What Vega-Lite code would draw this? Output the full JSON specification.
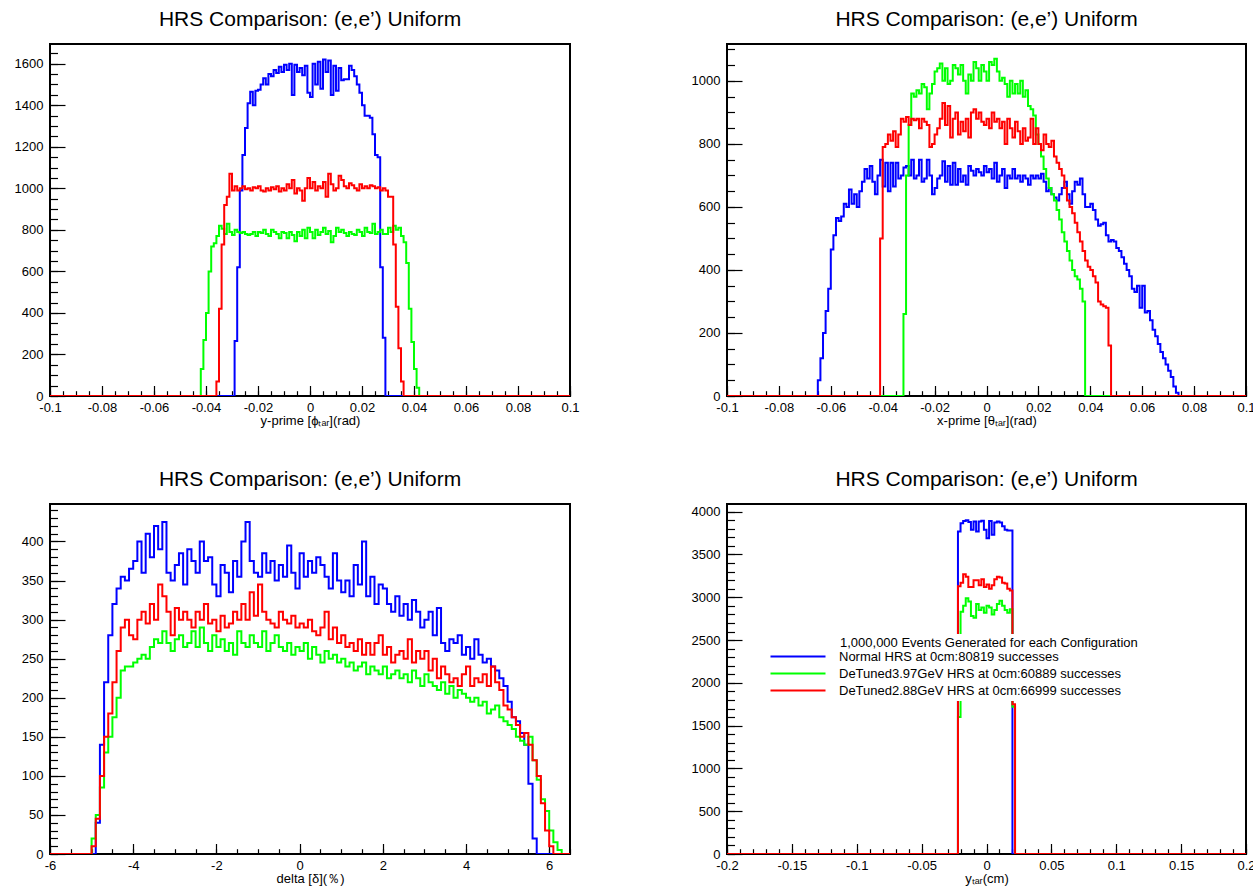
{
"$schema": "https://vega.github.io/schema/vega-lite/v6.json",
"padding": {"left": 13, "top": 8, "right": 0, "bottom": 0},
"config": {
 "view": {"stroke": "black", "strokeWidth": 2},
 "axis": {"domain": false, "grid": false, "tickColor": "black", "tickWidth": 1.2, "labelColor": "black", "labelFont": "Liberation Sans", "labelFontSize": 13, "labelOverlap": false, "labelFlush": false, "titleFont": "Liberation Sans", "titleFontSize": 13, "titleFontWeight": "normal", "titleColor": "black"},
 "title": {"font": "Liberation Sans", "fontSize": 21, "fontWeight": "normal", "color": "black", "anchor": "middle", "offset": 14}
},
"columns": 2,
"spacing": {"row": 108, "column": 157},
"bounds": "flush",
"resolve": {"scale": {"x": "independent", "y": "independent", "color": "independent"}},
"datasets": {
"p1": [
{"x":-0.1,"b":0,"g":0,"r":0},{"x":-0.0425,"b":0,"g":0,"r":0},{"x":-0.0415,"b":0,"g":130,"r":0},{"x":-0.0405,"b":0,"g":270,"r":0},{"x":-0.0395,"b":0,"g":400,"r":0},{"x":-0.0385,"b":0,"g":600,"r":0},{"x":-0.0375,"b":0,"g":720,"r":0},{"x":-0.0365,"b":0,"g":735,"r":0},{"x":-0.0355,"b":0,"g":770,"r":70},{"x":-0.0345,"b":0,"g":820,"r":420},{"x":-0.0335,"b":0,"g":805,"r":730},{"x":-0.0325,"b":0,"g":780,"r":920},{"x":-0.0315,"b":0,"g":830,"r":960},{"x":-0.0305,"b":0,"g":790,"r":1070},{"x":-0.0295,"b":0,"g":775,"r":990},{"x":-0.0285,"b":265,"g":800,"r":1010},{"x":-0.0275,"b":620,"g":790,"r":990},{"x":-0.0265,"b":990,"g":785,"r":1000},{"x":-0.0255,"b":1160,"g":790,"r":1010},{"x":-0.0245,"b":1290,"g":780,"r":995},{"x":-0.0235,"b":1410,"g":775,"r":1000},{"x":-0.0225,"b":1465,"g":780,"r":990},{"x":-0.0215,"b":1400,"g":790,"r":1005},{"x":-0.0205,"b":1470,"g":770,"r":1000},{"x":-0.0195,"b":1475,"g":790,"r":1010},{"x":-0.0185,"b":1500,"g":785,"r":990},{"x":-0.0175,"b":1530,"g":800,"r":985},{"x":-0.0165,"b":1500,"g":780,"r":1000},{"x":-0.0155,"b":1550,"g":770,"r":990},{"x":-0.0145,"b":1540,"g":800,"r":1005},{"x":-0.0135,"b":1570,"g":790,"r":995},{"x":-0.0125,"b":1555,"g":780,"r":1010},{"x":-0.0115,"b":1585,"g":760,"r":985},{"x":-0.0105,"b":1560,"g":790,"r":1000},{"x":-0.0095,"b":1595,"g":785,"r":990},{"x":-0.0085,"b":1570,"g":760,"r":1020},{"x":-0.0075,"b":1600,"g":790,"r":1000},{"x":-0.0065,"b":1450,"g":775,"r":1040},{"x":-0.0055,"b":1595,"g":745,"r":975},{"x":-0.0045,"b":1560,"g":790,"r":1000},{"x":-0.0035,"b":1580,"g":770,"r":990},{"x":-0.0025,"b":1545,"g":800,"r":940},{"x":-0.0015,"b":1590,"g":760,"r":1000},{"x":-0.0005,"b":1460,"g":810,"r":1050},{"x":0.0005,"b":1440,"g":790,"r":1000},{"x":0.0015,"b":1600,"g":760,"r":1030},{"x":0.0025,"b":1500,"g":800,"r":990},{"x":0.0035,"b":1610,"g":775,"r":1010},{"x":0.0045,"b":1480,"g":790,"r":1000},{"x":0.0055,"b":1620,"g":810,"r":1030},{"x":0.0065,"b":1560,"g":780,"r":960},{"x":0.0075,"b":1615,"g":795,"r":1070},{"x":0.0085,"b":1450,"g":740,"r":1020},{"x":0.0095,"b":1590,"g":770,"r":990},{"x":0.0105,"b":1470,"g":810,"r":1000},{"x":0.0115,"b":1580,"g":790,"r":1060},{"x":0.0125,"b":1520,"g":800,"r":1040},{"x":0.0135,"b":1525,"g":785,"r":1010},{"x":0.0145,"b":1525,"g":770,"r":1000},{"x":0.0155,"b":1590,"g":790,"r":1025},{"x":0.0165,"b":1570,"g":780,"r":1015},{"x":0.0175,"b":1540,"g":775,"r":1000},{"x":0.0185,"b":1500,"g":800,"r":990},{"x":0.0195,"b":1460,"g":790,"r":1020},{"x":0.0205,"b":1400,"g":770,"r":1000},{"x":0.0215,"b":1350,"g":810,"r":1010},{"x":0.0225,"b":1350,"g":790,"r":1000},{"x":0.0235,"b":1340,"g":785,"r":1015},{"x":0.0245,"b":1260,"g":830,"r":1010},{"x":0.0255,"b":1160,"g":780,"r":1000},{"x":0.0265,"b":1150,"g":790,"r":1005},{"x":0.0275,"b":620,"g":800,"r":990},{"x":0.0285,"b":280,"g":780,"r":1000},{"x":0.0295,"b":0,"g":780,"r":990},{"x":0.0305,"b":0,"g":810,"r":960},{"x":0.0315,"b":0,"g":790,"r":960},{"x":0.0325,"b":0,"g":820,"r":730},{"x":0.0335,"b":0,"g":800,"r":430},{"x":0.0345,"b":0,"g":810,"r":230},{"x":0.0355,"b":0,"g":770,"r":70},{"x":0.0365,"b":0,"g":740,"r":0},{"x":0.0375,"b":0,"g":640,"r":0},{"x":0.0385,"b":0,"g":420,"r":0},{"x":0.0395,"b":0,"g":260,"r":0},{"x":0.0405,"b":0,"g":130,"r":0},{"x":0.0415,"b":0,"g":40,"r":0},{"x":0.0425,"b":0,"g":0,"r":0},{"x":0.1,"b":0,"g":0,"r":0}
],
"p2": [
{"x":-0.1,"b":0,"g":0,"r":0},{"x":-0.0665,"b":0,"g":0,"r":0},{"x":-0.0655,"b":0,"g":0,"r":0},{"x":-0.0645,"b":50,"g":0,"r":0},{"x":-0.0635,"b":120,"g":0,"r":0},{"x":-0.0625,"b":200,"g":0,"r":0},{"x":-0.0615,"b":270,"g":0,"r":0},{"x":-0.0605,"b":340,"g":0,"r":0},{"x":-0.0595,"b":465,"g":0,"r":0},{"x":-0.0585,"b":510,"g":0,"r":0},{"x":-0.0575,"b":565,"g":0,"r":0},{"x":-0.0565,"b":555,"g":0,"r":0},{"x":-0.0555,"b":570,"g":0,"r":0},{"x":-0.0545,"b":610,"g":0,"r":0},{"x":-0.0535,"b":600,"g":0,"r":0},{"x":-0.0525,"b":655,"g":0,"r":0},{"x":-0.0515,"b":610,"g":0,"r":0},{"x":-0.0505,"b":640,"g":0,"r":0},{"x":-0.0495,"b":600,"g":0,"r":0},{"x":-0.0485,"b":650,"g":0,"r":0},{"x":-0.0475,"b":680,"g":0,"r":0},{"x":-0.0465,"b":720,"g":0,"r":0},{"x":-0.0455,"b":690,"g":0,"r":0},{"x":-0.0445,"b":730,"g":0,"r":0},{"x":-0.0435,"b":680,"g":0,"r":0},{"x":-0.0425,"b":640,"g":0,"r":0},{"x":-0.0415,"b":700,"g":0,"r":0},{"x":-0.0405,"b":750,"g":0,"r":500},{"x":-0.0395,"b":665,"g":0,"r":790},{"x":-0.0385,"b":740,"g":0,"r":800},{"x":-0.0375,"b":650,"g":0,"r":830},{"x":-0.0365,"b":740,"g":0,"r":810},{"x":-0.0355,"b":665,"g":0,"r":840},{"x":-0.0345,"b":740,"g":0,"r":790},{"x":-0.0335,"b":690,"g":0,"r":830},{"x":-0.0325,"b":700,"g":0,"r":880},{"x":-0.0315,"b":725,"g":260,"r":870},{"x":-0.0305,"b":730,"g":700,"r":885},{"x":-0.0295,"b":700,"g":860,"r":860},{"x":-0.0285,"b":750,"g":960,"r":880},{"x":-0.0275,"b":690,"g":950,"r":875},{"x":-0.0265,"b":700,"g":970,"r":880},{"x":-0.0255,"b":750,"g":960,"r":850},{"x":-0.0245,"b":680,"g":990,"r":880},{"x":-0.0235,"b":690,"g":980,"r":870},{"x":-0.0225,"b":750,"g":910,"r":860},{"x":-0.0215,"b":700,"g":960,"r":790},{"x":-0.0205,"b":640,"g":990,"r":800},{"x":-0.0195,"b":660,"g":1030,"r":830},{"x":-0.0185,"b":690,"g":1040,"r":850},{"x":-0.0175,"b":700,"g":1055,"r":880},{"x":-0.0165,"b":745,"g":1000,"r":930},{"x":-0.0155,"b":680,"g":1040,"r":860},{"x":-0.0145,"b":730,"g":990,"r":920},{"x":-0.0135,"b":670,"g":1000,"r":820},{"x":-0.0125,"b":740,"g":1050,"r":880},{"x":-0.0115,"b":670,"g":1040,"r":900},{"x":-0.0105,"b":720,"g":1020,"r":830},{"x":-0.0095,"b":680,"g":1050,"r":870},{"x":-0.0085,"b":700,"g":1000,"r":840},{"x":-0.0075,"b":670,"g":960,"r":880},{"x":-0.0065,"b":730,"g":1020,"r":820},{"x":-0.0055,"b":715,"g":1000,"r":900},{"x":-0.0045,"b":700,"g":1060,"r":910},{"x":-0.0035,"b":720,"g":1040,"r":880},{"x":-0.0025,"b":710,"g":1000,"r":900},{"x":-0.0015,"b":700,"g":1050,"r":870},{"x":-0.0005,"b":730,"g":1030,"r":860},{"x":0.0005,"b":710,"g":1000,"r":880},{"x":0.0015,"b":720,"g":1060,"r":850},{"x":0.0025,"b":690,"g":1050,"r":900},{"x":0.0035,"b":740,"g":1070,"r":870},{"x":0.0045,"b":680,"g":1030,"r":880},{"x":0.0055,"b":700,"g":1000,"r":850},{"x":0.0065,"b":720,"g":1010,"r":870},{"x":0.0075,"b":660,"g":990,"r":800},{"x":0.0085,"b":700,"g":950,"r":880},{"x":0.0095,"b":690,"g":1000,"r":850},{"x":0.0105,"b":720,"g":960,"r":820},{"x":0.0115,"b":690,"g":990,"r":870},{"x":0.0125,"b":700,"g":960,"r":840},{"x":0.0135,"b":680,"g":1000,"r":800},{"x":0.0145,"b":700,"g":950,"r":850},{"x":0.0155,"b":690,"g":970,"r":810},{"x":0.0165,"b":670,"g":920,"r":820},{"x":0.0175,"b":700,"g":910,"r":880},{"x":0.0185,"b":690,"g":890,"r":800},{"x":0.0195,"b":700,"g":830,"r":850},{"x":0.0205,"b":690,"g":800,"r":800},{"x":0.0215,"b":705,"g":760,"r":780},{"x":0.0225,"b":680,"g":720,"r":830},{"x":0.0235,"b":650,"g":690,"r":800},{"x":0.0245,"b":660,"g":660,"r":790},{"x":0.0255,"b":640,"g":640,"r":810},{"x":0.0265,"b":630,"g":620,"r":760},{"x":0.0275,"b":620,"g":590,"r":740},{"x":0.0285,"b":640,"g":560,"r":720},{"x":0.0295,"b":660,"g":520,"r":700},{"x":0.0305,"b":680,"g":490,"r":660},{"x":0.0315,"b":640,"g":460,"r":620},{"x":0.0325,"b":610,"g":430,"r":600},{"x":0.0335,"b":650,"g":400,"r":580},{"x":0.0345,"b":680,"g":380,"r":550},{"x":0.0355,"b":670,"g":370,"r":520},{"x":0.0365,"b":690,"g":340,"r":490},{"x":0.0375,"b":640,"g":300,"r":460},{"x":0.0385,"b":600,"g":0,"r":430},{"x":0.0395,"b":600,"g":0,"r":410},{"x":0.0405,"b":610,"g":0,"r":400},{"x":0.0415,"b":590,"g":0,"r":380},{"x":0.0425,"b":560,"g":0,"r":360},{"x":0.0435,"b":540,"g":0,"r":300},{"x":0.0445,"b":545,"g":0,"r":290},{"x":0.0455,"b":550,"g":0,"r":285},{"x":0.0465,"b":510,"g":0,"r":280},{"x":0.0475,"b":490,"g":0,"r":160},{"x":0.0485,"b":495,"g":0,"r":0},{"x":0.0495,"b":490,"g":0,"r":0},{"x":0.0505,"b":470,"g":0,"r":0},{"x":0.0515,"b":460,"g":0,"r":0},{"x":0.0525,"b":440,"g":0,"r":0},{"x":0.0535,"b":420,"g":0,"r":0},{"x":0.0545,"b":400,"g":0,"r":0},{"x":0.0555,"b":380,"g":0,"r":0},{"x":0.0565,"b":340,"g":0,"r":0},{"x":0.0575,"b":330,"g":0,"r":0},{"x":0.0585,"b":350,"g":0,"r":0},{"x":0.0595,"b":280,"g":0,"r":0},{"x":0.0605,"b":350,"g":0,"r":0},{"x":0.0615,"b":265,"g":0,"r":0},{"x":0.0625,"b":270,"g":0,"r":0},{"x":0.0635,"b":240,"g":0,"r":0},{"x":0.0645,"b":210,"g":0,"r":0},{"x":0.0655,"b":190,"g":0,"r":0},{"x":0.0665,"b":165,"g":0,"r":0},{"x":0.0675,"b":140,"g":0,"r":0},{"x":0.0685,"b":120,"g":0,"r":0},{"x":0.0695,"b":100,"g":0,"r":0},{"x":0.0705,"b":80,"g":0,"r":0},{"x":0.0715,"b":60,"g":0,"r":0},{"x":0.0725,"b":30,"g":0,"r":0},{"x":0.0735,"b":10,"g":0,"r":0},{"x":0.0745,"b":0,"g":0,"r":0},{"x":0.1,"b":0,"g":0,"r":0}
],
"p3": [
{"x":-6,"b":0,"g":0,"r":0},{"x":-5.05,"b":0,"g":0,"r":0},{"x":-4.95,"b":0,"g":20,"r":10},{"x":-4.85,"b":40,"g":50,"r":45},{"x":-4.75,"b":140,"g":85,"r":100},{"x":-4.65,"b":220,"g":130,"r":150},{"x":-4.55,"b":280,"g":150,"r":180},{"x":-4.45,"b":320,"g":175,"r":220},{"x":-4.35,"b":340,"g":200,"r":260},{"x":-4.25,"b":355,"g":235,"r":290},{"x":-4.15,"b":350,"g":240,"r":300},{"x":-4.05,"b":365,"g":240,"r":280},{"x":-3.95,"b":375,"g":245,"r":275},{"x":-3.85,"b":400,"g":250,"r":300},{"x":-3.75,"b":360,"g":255,"r":310},{"x":-3.65,"b":410,"g":250,"r":295},{"x":-3.55,"b":380,"g":265,"r":320},{"x":-3.45,"b":420,"g":275,"r":300},{"x":-3.35,"b":390,"g":270,"r":345},{"x":-3.25,"b":425,"g":285,"r":330},{"x":-3.15,"b":360,"g":270,"r":310},{"x":-3.05,"b":350,"g":260,"r":280},{"x":-2.95,"b":370,"g":275,"r":315},{"x":-2.85,"b":385,"g":280,"r":300},{"x":-2.75,"b":345,"g":265,"r":310},{"x":-2.65,"b":390,"g":270,"r":300},{"x":-2.55,"b":375,"g":285,"r":290},{"x":-2.45,"b":360,"g":265,"r":310},{"x":-2.35,"b":400,"g":290,"r":300},{"x":-2.25,"b":375,"g":270,"r":320},{"x":-2.15,"b":380,"g":260,"r":295},{"x":-2.05,"b":345,"g":280,"r":300},{"x":-1.95,"b":330,"g":265,"r":285},{"x":-1.85,"b":370,"g":275,"r":305},{"x":-1.75,"b":360,"g":260,"r":290},{"x":-1.65,"b":335,"g":270,"r":295},{"x":-1.55,"b":375,"g":255,"r":310},{"x":-1.45,"b":355,"g":285,"r":300},{"x":-1.35,"b":400,"g":270,"r":320},{"x":-1.25,"b":425,"g":265,"r":300},{"x":-1.15,"b":375,"g":280,"r":335},{"x":-1.05,"b":360,"g":270,"r":305},{"x":-0.95,"b":355,"g":265,"r":345},{"x":-0.85,"b":385,"g":285,"r":310},{"x":-0.75,"b":360,"g":260,"r":300},{"x":-0.65,"b":375,"g":270,"r":295},{"x":-0.55,"b":350,"g":280,"r":290},{"x":-0.45,"b":370,"g":265,"r":310},{"x":-0.35,"b":355,"g":260,"r":300},{"x":-0.25,"b":395,"g":270,"r":295},{"x":-0.15,"b":360,"g":255,"r":305},{"x":-0.05,"b":340,"g":265,"r":290},{"x":0.05,"b":385,"g":260,"r":295},{"x":0.15,"b":355,"g":270,"r":290},{"x":0.25,"b":375,"g":250,"r":300},{"x":0.35,"b":360,"g":265,"r":285},{"x":0.45,"b":380,"g":255,"r":280},{"x":0.55,"b":370,"g":245,"r":290},{"x":0.65,"b":355,"g":260,"r":310},{"x":0.75,"b":340,"g":250,"r":275},{"x":0.85,"b":385,"g":255,"r":290},{"x":0.95,"b":350,"g":245,"r":270},{"x":1.05,"b":335,"g":250,"r":280},{"x":1.15,"b":350,"g":240,"r":265},{"x":1.25,"b":330,"g":245,"r":270},{"x":1.35,"b":370,"g":235,"r":260},{"x":1.45,"b":345,"g":240,"r":275},{"x":1.55,"b":400,"g":245,"r":255},{"x":1.65,"b":330,"g":230,"r":270},{"x":1.75,"b":355,"g":240,"r":255},{"x":1.85,"b":320,"g":235,"r":270},{"x":1.95,"b":345,"g":230,"r":280},{"x":2.05,"b":340,"g":240,"r":255},{"x":2.15,"b":320,"g":225,"r":265},{"x":2.25,"b":310,"g":230,"r":245},{"x":2.35,"b":330,"g":235,"r":255},{"x":2.45,"b":305,"g":225,"r":260},{"x":2.55,"b":320,"g":230,"r":250},{"x":2.65,"b":300,"g":220,"r":275},{"x":2.75,"b":325,"g":235,"r":245},{"x":2.85,"b":310,"g":225,"r":260},{"x":2.95,"b":290,"g":215,"r":250},{"x":3.05,"b":300,"g":230,"r":260},{"x":3.15,"b":310,"g":220,"r":235},{"x":3.25,"b":280,"g":215,"r":250},{"x":3.35,"b":315,"g":210,"r":225},{"x":3.45,"b":270,"g":220,"r":240},{"x":3.55,"b":260,"g":205,"r":230},{"x":3.65,"b":275,"g":215,"r":220},{"x":3.75,"b":270,"g":200,"r":225},{"x":3.85,"b":280,"g":210,"r":215},{"x":3.95,"b":255,"g":205,"r":230},{"x":4.05,"b":265,"g":200,"r":240},{"x":4.15,"b":250,"g":195,"r":215},{"x":4.25,"b":275,"g":200,"r":225},{"x":4.35,"b":255,"g":190,"r":220},{"x":4.45,"b":245,"g":195,"r":230},{"x":4.55,"b":250,"g":180,"r":215},{"x":4.65,"b":240,"g":185,"r":240},{"x":4.75,"b":235,"g":190,"r":220},{"x":4.85,"b":225,"g":175,"r":210},{"x":4.95,"b":215,"g":170,"r":190},{"x":5.05,"b":195,"g":165,"r":185},{"x":5.15,"b":175,"g":160,"r":175},{"x":5.25,"b":170,"g":150,"r":165},{"x":5.35,"b":155,"g":145,"r":150},{"x":5.45,"b":140,"g":140,"r":155},{"x":5.55,"b":90,"g":150,"r":140},{"x":5.65,"b":20,"g":120,"r":120},{"x":5.75,"b":0,"g":95,"r":100},{"x":5.85,"b":0,"g":70,"r":65},{"x":5.95,"b":0,"g":55,"r":30},{"x":6.05,"b":0,"g":30,"r":10},{"x":6.15,"b":0,"g":15,"r":0},{"x":6.25,"b":0,"g":5,"r":0},{"x":6.35,"b":0,"g":0,"r":0},{"x":6.5,"b":0,"g":0,"r":0}
],
"p4": [
{"x":-0.2,"b":0,"g":0,"r":0},{"x":-0.023,"b":0,"g":0,"r":0},{"x":-0.021,"b":3770,"g":1600,"r":3130},{"x":-0.019,"b":3865,"g":2830,"r":3170},{"x":-0.017,"b":3890,"g":2900,"r":3270},{"x":-0.015,"b":3900,"g":2990,"r":3240},{"x":-0.013,"b":3880,"g":2950,"r":3120},{"x":-0.011,"b":3790,"g":2780,"r":3120},{"x":-0.009,"b":3885,"g":2760,"r":3200},{"x":-0.007,"b":3770,"g":2920,"r":3200},{"x":-0.005,"b":3885,"g":2850,"r":3140},{"x":-0.003,"b":3895,"g":2880,"r":3210},{"x":-0.001,"b":3790,"g":2820,"r":3120},{"x":0.001,"b":3690,"g":2900,"r":3150},{"x":0.003,"b":3890,"g":2880,"r":3100},{"x":0.005,"b":3730,"g":2800,"r":3140},{"x":0.007,"b":3875,"g":2850,"r":3210},{"x":0.009,"b":3885,"g":2920,"r":3240},{"x":0.011,"b":3875,"g":2960,"r":3230},{"x":0.013,"b":3830,"g":2900,"r":3170},{"x":0.015,"b":3790,"g":2850,"r":3160},{"x":0.017,"b":3780,"g":2820,"r":3100},{"x":0.019,"b":3780,"g":2860,"r":3080},{"x":0.021,"b":0,"g":1720,"r":1750},{"x":0.023,"b":0,"g":0,"r":0},{"x":0.2,"b":0,"g":0,"r":0}
],
"names": [
{"s": "b", "n": "Normal HRS at 0cm:80819 successes"},
{"s": "g", "n": "DeTuned3.97GeV HRS at 0cm:60889 successes"},
{"s": "r", "n": "DeTuned2.88GeV HRS at 0cm:66999 successes"}
]
},
"concat": [
{
 "width": 520, "height": 352,
 "title": "HRS Comparison: (e,e’) Uniform",
 "data": {"name": "p1"},
 "transform": [{"fold": ["b","g","r"], "as": ["s","v"]}],
 "resolve": {"axis": {"x": "independent", "y": "independent"}},
 "layer": [
  {"mark": {"type": "line", "opacity": 0},
   "encoding": {
    "x": {"field": "x", "type": "quantitative", "scale": {"domain": [-0.1, 0.1], "nice": false, "zero": false},
     "axis": {"orient": "top", "offset": -352, "labels": false, "title": null, "tickSize": 5.3,
      "values": [-0.1,-0.095,-0.09,-0.085,-0.08,-0.075,-0.07,-0.065,-0.06,-0.055,-0.05,-0.045,-0.04,-0.035,-0.03,-0.025,-0.02,-0.015,-0.01,-0.005,0,0.005,0.01,0.015,0.02,0.025,0.03,0.035,0.04,0.045,0.05,0.055,0.06,0.065,0.07,0.075,0.08,0.085,0.09,0.095,0.1]}},
    "y": {"field": "v", "type": "quantitative", "scale": {"domain": [0, 1695], "nice": false},
     "axis": {"orient": "right", "offset": -520, "labels": false, "title": null, "tickSize": 7.5,
      "values": [0,50,100,150,200,250,300,350,400,450,500,550,600,650,700,750,800,850,900,950,1000,1050,1100,1150,1200,1250,1300,1350,1400,1450,1500,1550,1600,1650]}},
    "detail": {"field": "s"}}},
  {"mark": {"type": "line", "opacity": 0},
   "encoding": {
    "x": {"field": "x", "type": "quantitative",
     "axis": {"orient": "top", "offset": -352, "labels": false, "title": null, "tickSize": 10.5,
      "values": [-0.1,-0.08,-0.06,-0.04,-0.02,0,0.02,0.04,0.06,0.08,0.1]}},
    "y": {"field": "v", "type": "quantitative",
     "axis": {"orient": "right", "offset": -520, "labels": false, "title": null, "tickSize": 15,
      "values": [0,200,400,600,800,1000,1200,1400,1600]}},
    "detail": {"field": "s"}}},
  {"mark": {"type": "line", "interpolate": "step", "strokeWidth": 2, "clip": true},
   "encoding": {
    "x": {"field": "x", "type": "quantitative",
     "axis": {"orient": "bottom", "title": "y-prime [ϕₜₐᵣ](rad)", "ticks": false, "labelPadding": 5, "titlePadding": 0, "labelExpr": "datum.value",
      "values": [-0.1,-0.08,-0.06,-0.04,-0.02,0,0.02,0.04,0.06,0.08,0.1]}},
    "y": {"field": "v", "type": "quantitative",
     "axis": {"orient": "left", "title": null, "ticks": false, "labelPadding": 7, "labelExpr": "datum.value",
      "values": [0,200,400,600,800,1000,1200,1400,1600]}},
    "color": {"field": "s", "type": "nominal", "scale": {"domain": ["b","g","r"], "range": ["#0000ff","#00ff00","#ff0000"]}, "legend": null}}}
 ]
},
{
 "width": 519, "height": 352,
 "title": "HRS Comparison: (e,e’) Uniform",
 "data": {"name": "p2"},
 "transform": [{"fold": ["b","g","r"], "as": ["s","v"]}],
 "resolve": {"axis": {"x": "independent", "y": "independent"}},
 "layer": [
  {"mark": {"type": "line", "opacity": 0},
   "encoding": {
    "x": {"field": "x", "type": "quantitative", "scale": {"domain": [-0.1, 0.1], "nice": false, "zero": false},
     "axis": {"orient": "top", "offset": -352, "labels": false, "title": null, "tickSize": 5.3,
      "values": [-0.1,-0.095,-0.09,-0.085,-0.08,-0.075,-0.07,-0.065,-0.06,-0.055,-0.05,-0.045,-0.04,-0.035,-0.03,-0.025,-0.02,-0.015,-0.01,-0.005,0,0.005,0.01,0.015,0.02,0.025,0.03,0.035,0.04,0.045,0.05,0.055,0.06,0.065,0.07,0.075,0.08,0.085,0.09,0.095,0.1]}},
    "y": {"field": "v", "type": "quantitative", "scale": {"domain": [0, 1117], "nice": false},
     "axis": {"orient": "right", "offset": -519, "labels": false, "title": null, "tickSize": 7.5,
      "values": [0,50,100,150,200,250,300,350,400,450,500,550,600,650,700,750,800,850,900,950,1000,1050,1100]}},
    "detail": {"field": "s"}}},
  {"mark": {"type": "line", "opacity": 0},
   "encoding": {
    "x": {"field": "x", "type": "quantitative",
     "axis": {"orient": "top", "offset": -352, "labels": false, "title": null, "tickSize": 10.5,
      "values": [-0.1,-0.08,-0.06,-0.04,-0.02,0,0.02,0.04,0.06,0.08,0.1]}},
    "y": {"field": "v", "type": "quantitative",
     "axis": {"orient": "right", "offset": -519, "labels": false, "title": null, "tickSize": 15,
      "values": [0,200,400,600,800,1000]}},
    "detail": {"field": "s"}}},
  {"mark": {"type": "line", "interpolate": "step", "strokeWidth": 2, "clip": true},
   "encoding": {
    "x": {"field": "x", "type": "quantitative",
     "axis": {"orient": "bottom", "title": "x-prime [θₜₐᵣ](rad)", "ticks": false, "labelPadding": 5, "titlePadding": 0, "labelExpr": "datum.value",
      "values": [-0.1,-0.08,-0.06,-0.04,-0.02,0,0.02,0.04,0.06,0.08,0.1]}},
    "y": {"field": "v", "type": "quantitative",
     "axis": {"orient": "left", "title": null, "ticks": false, "labelPadding": 7, "labelExpr": "datum.value",
      "values": [0,200,400,600,800,1000]}},
    "color": {"field": "s", "type": "nominal", "scale": {"domain": ["b","g","r"], "range": ["#0000ff","#00ff00","#ff0000"]}, "legend": null}}}
 ]
},
{
 "width": 520, "height": 350,
 "title": "HRS Comparison: (e,e’) Uniform",
 "data": {"name": "p3"},
 "transform": [{"fold": ["b","g","r"], "as": ["s","v"]}],
 "resolve": {"axis": {"x": "independent", "y": "independent"}},
 "layer": [
  {"mark": {"type": "line", "opacity": 0},
   "encoding": {
    "x": {"field": "x", "type": "quantitative", "scale": {"domain": [-6, 6.5], "nice": false, "zero": false},
     "axis": {"orient": "top", "offset": -350, "labels": false, "title": null, "tickSize": 5.3,
      "values": [-6,-5.5,-5,-4.5,-4,-3.5,-3,-2.5,-2,-1.5,-1,-0.5,0,0.5,1,1.5,2,2.5,3,3.5,4,4.5,5,5.5,6,6.5]}},
    "y": {"field": "v", "type": "quantitative", "scale": {"domain": [0, 448], "nice": false},
     "axis": {"orient": "right", "offset": -520, "labels": false, "title": null, "tickSize": 7.5,
      "values": [0,10,20,30,40,50,60,70,80,90,100,110,120,130,140,150,160,170,180,190,200,210,220,230,240,250,260,270,280,290,300,310,320,330,340,350,360,370,380,390,400,410,420,430,440]}},
    "detail": {"field": "s"}}},
  {"mark": {"type": "line", "opacity": 0},
   "encoding": {
    "x": {"field": "x", "type": "quantitative",
     "axis": {"orient": "top", "offset": -350, "labels": false, "title": null, "tickSize": 10.5,
      "values": [-6,-4,-2,0,2,4,6]}},
    "y": {"field": "v", "type": "quantitative",
     "axis": {"orient": "right", "offset": -520, "labels": false, "title": null, "tickSize": 15,
      "values": [0,50,100,150,200,250,300,350,400]}},
    "detail": {"field": "s"}}},
  {"mark": {"type": "line", "interpolate": "step", "strokeWidth": 2, "clip": true},
   "encoding": {
    "x": {"field": "x", "type": "quantitative",
     "axis": {"orient": "bottom", "title": "delta [δ](％)", "ticks": false, "labelPadding": 5, "titlePadding": 0, "labelExpr": "datum.value",
      "values": [-6,-4,-2,0,2,4,6]}},
    "y": {"field": "v", "type": "quantitative",
     "axis": {"orient": "left", "title": null, "ticks": false, "labelPadding": 7, "labelExpr": "datum.value",
      "values": [0,50,100,150,200,250,300,350,400]}},
    "color": {"field": "s", "type": "nominal", "scale": {"domain": ["b","g","r"], "range": ["#0000ff","#00ff00","#ff0000"]}, "legend": null}}}
 ]
},
{
 "width": 519, "height": 350,
 "title": "HRS Comparison: (e,e’) Uniform",
 "data": {"name": "p4"},
 "transform": [{"fold": ["b","g","r"], "as": ["s","v"]}, {"lookup": "s", "from": {"data": {"name": "names"}, "key": "s", "fields": ["n"]}}],
 "resolve": {"axis": {"x": "independent", "y": "independent"}},
 "layer": [
  {"mark": {"type": "line", "opacity": 0},
   "encoding": {
    "x": {"field": "x", "type": "quantitative", "scale": {"domain": [-0.2, 0.2], "nice": false, "zero": false},
     "axis": {"orient": "top", "offset": -350, "labels": false, "title": null, "tickSize": 5.3,
      "values": [-0.2,-0.19,-0.18,-0.17,-0.16,-0.15,-0.14,-0.13,-0.12,-0.11,-0.1,-0.09,-0.08,-0.07,-0.06,-0.05,-0.04,-0.03,-0.02,-0.01,0,0.01,0.02,0.03,0.04,0.05,0.06,0.07,0.08,0.09,0.1,0.11,0.12,0.13,0.14,0.15,0.16,0.17,0.18,0.19,0.2]}},
    "y": {"field": "v", "type": "quantitative", "scale": {"domain": [0, 4090], "nice": false},
     "axis": {"orient": "right", "offset": -519, "labels": false, "title": null, "tickSize": 7.5,
      "values": [0,100,200,300,400,500,600,700,800,900,1000,1100,1200,1300,1400,1500,1600,1700,1800,1900,2000,2100,2200,2300,2400,2500,2600,2700,2800,2900,3000,3100,3200,3300,3400,3500,3600,3700,3800,3900,4000]}},
    "detail": {"field": "s"}}},
  {"mark": {"type": "line", "opacity": 0},
   "encoding": {
    "x": {"field": "x", "type": "quantitative",
     "axis": {"orient": "top", "offset": -350, "labels": false, "title": null, "tickSize": 10.5,
      "values": [-0.2,-0.15,-0.1,-0.05,0,0.05,0.1,0.15,0.2]}},
    "y": {"field": "v", "type": "quantitative",
     "axis": {"orient": "right", "offset": -519, "labels": false, "title": null, "tickSize": 15,
      "values": [0,500,1000,1500,2000,2500,3000,3500,4000]}},
    "detail": {"field": "s"}}},
  {"mark": {"type": "line", "interpolate": "step", "strokeWidth": 2, "clip": true},
   "encoding": {
    "x": {"field": "x", "type": "quantitative",
     "axis": {"orient": "bottom", "title": "yₜₐᵣ(cm)", "ticks": false, "labelPadding": 5, "titlePadding": 0, "labelExpr": "datum.value",
      "values": [-0.2,-0.15,-0.1,-0.05,0,0.05,0.1,0.15,0.2]}},
    "y": {"field": "v", "type": "quantitative",
     "axis": {"orient": "left", "title": null, "ticks": false, "labelPadding": 7, "labelExpr": "datum.value",
      "values": [0,500,1000,1500,2000,2500,3000,3500,4000]}},
    "color": {"field": "n", "type": "nominal", "scale": {"domain": ["Normal HRS at 0cm:80819 successes","DeTuned3.97GeV HRS at 0cm:60889 successes","DeTuned2.88GeV HRS at 0cm:66999 successes"], "range": ["#0000ff","#00ff00","#ff0000"]},
     "legend": {"orient": "none", "legendX": 110, "legendY": 130,
      "title": "1,000,000 Events Generated for each Configuration",
      "titleFont": "Liberation Sans", "titleFontSize": 13, "titleFontWeight": "normal", "titleColor": "black", "titleAnchor": "start", "titlePadding": 0, "titleLimit": 600,
      "labelFont": "Liberation Sans", "labelFontSize": 13, "labelColor": "black", "labelLimit": 600,
      "symbolType": "M -76 0 L -21 0", "symbolSize": 4, "symbolStrokeWidth": 2, "labelOffset": -14, "rowPadding": 3,
      "fillColor": "white", "padding": 3}}}}
 ]
}
]
}
